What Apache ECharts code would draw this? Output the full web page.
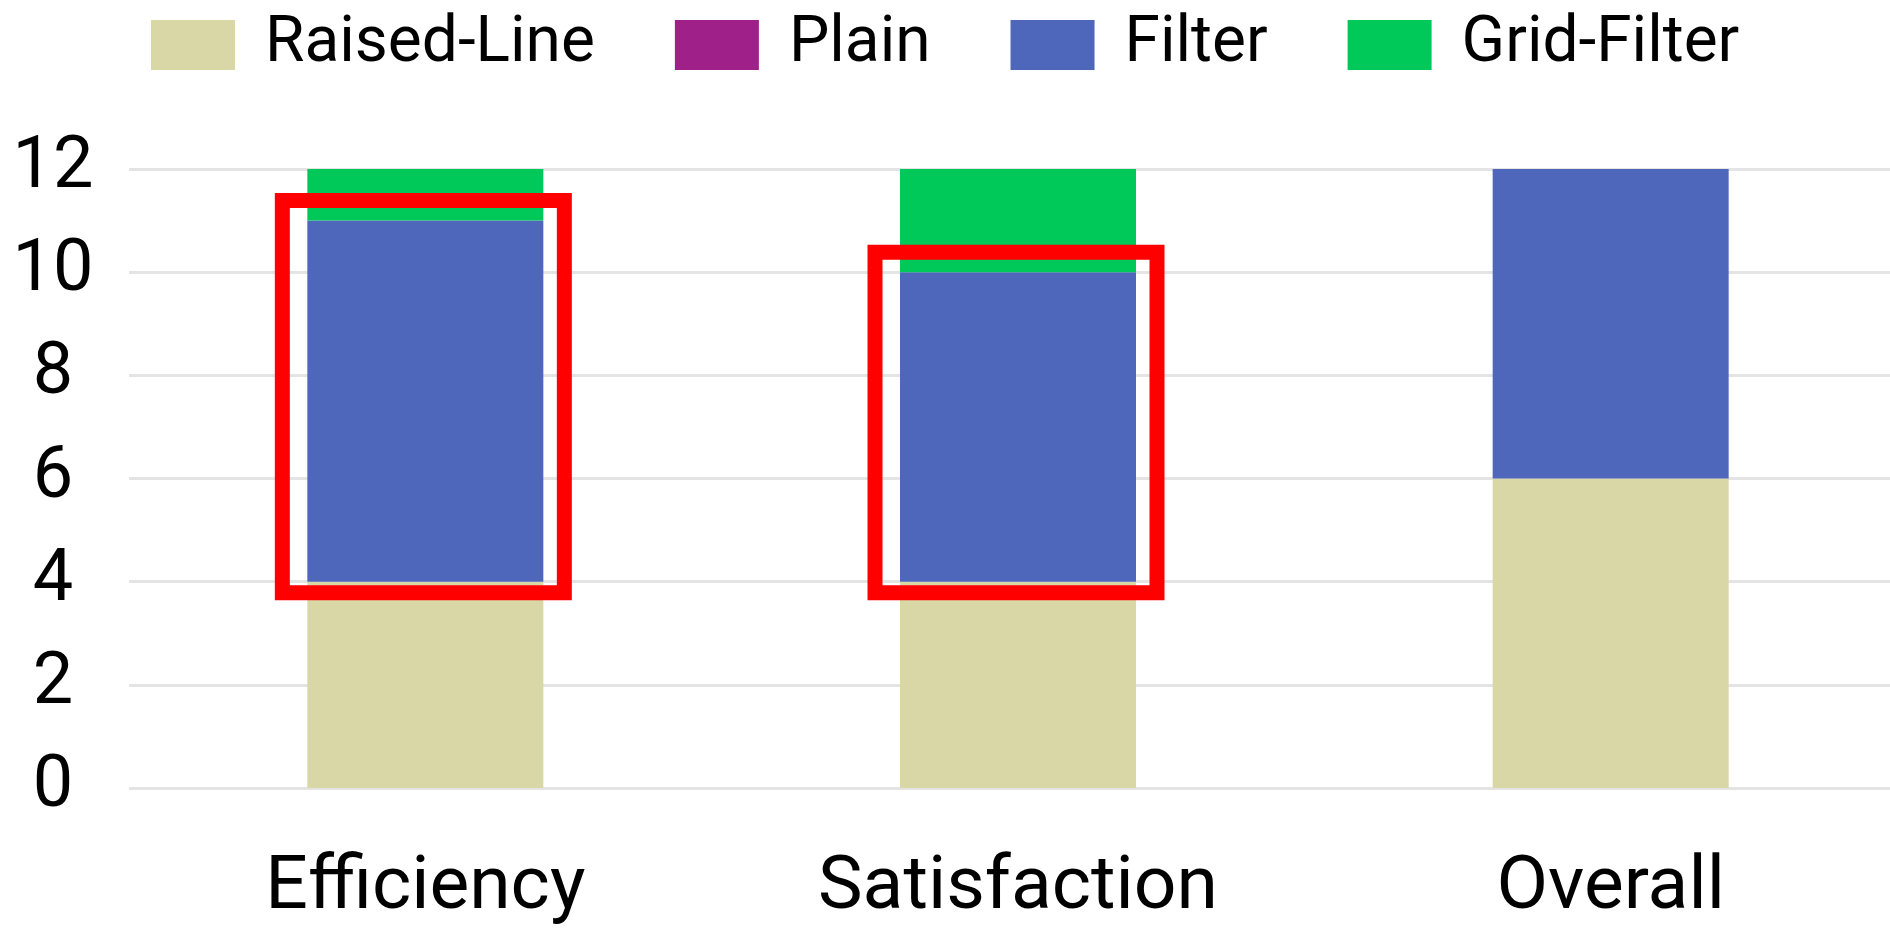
<!DOCTYPE html>
<html>
<head>
<meta charset="utf-8">
<title>Stacked ratings by condition</title>
<script src="https://cdn.jsdelivr.net/npm/echarts@6/dist/echarts.min.js"></script>
<style>
  html, body { margin: 0; padding: 0; background: #ffffff; overflow: hidden; }
  /* the plot band runs a little past the right edge of the window */
  #chart { width: 1907px; height: 933px; }
</style>
</head>
<body>
<div id="chart"></div>
<script>
// Categories along the x axis
const categories = ['Efficiency', 'Satisfaction', 'Overall'];

// Counts per technique (stacked)
const raisedLine  = [4, 4, 6];
const plain       = [0, 0, 0];
const filter      = [7, 6, 6];
const gridFilter  = [1, 2, 0];

// Series names, in legend order
const seriesNames = ['Raised-Line', 'Plain', 'Filter', 'Grid-Filter'];

// Y axis ticks
const yTicks = [0, 2, 4, 6, 8, 10, 12];

// Categories whose Filter segment is outlined in red
const highlighted = ['Efficiency', 'Satisfaction'];

const colors = {
  raised: '#DAD7A6',
  plain: '#A0208A',
  filter: '#4F67BB',
  grid: '#00C95A',
  box: '#FF0000'
};

const BAR_W = 236;
const FONT = 'Roboto, "Noto Sans", sans-serif';

// Outline boxes: span from the base of the Filter segment to its top
const boxData = highlighted.map(function (name) {
  const i = categories.indexOf(name);
  const low = raisedLine[i] + plain[i];
  return [i, low, low + filter[i]];
});

const chart = echarts.init(document.getElementById('chart'), null, { renderer: 'canvas' });

function barSeries(name, data, color) {
  return {
    name: name,
    type: 'bar',
    stack: 'total',
    data: data,
    barWidth: BAR_W,
    itemStyle: { color: color },
    emphasis: { disabled: true },
    animation: false
  };
}

chart.setOption({
  animation: false,
  backgroundColor: '#ffffff',
  textStyle: { fontFamily: FONT },
  legend: {
    data: seriesNames,
    left: 146,
    top: 8,
    itemWidth: 84,
    itemHeight: 50,
    itemGap: 80,
    icon: 'rect',
    selectedMode: false,
    textStyle: {
      fontFamily: FONT,
      fontSize: 64,
      color: '#000000',
      padding: [0, 0, 0, 25]
    }
  },
  grid: {
    left: 129,
    right: 0,
    top: 169,
    bottom: 145,
    containLabel: false
  },
  xAxis: {
    type: 'category',
    data: categories,
    axisLine: { show: false },
    axisTick: { show: false },
    axisLabel: {
      fontFamily: FONT,
      fontSize: 75,
      color: '#000000',
      margin: 64
    }
  },
  yAxis: {
    type: 'value',
    min: yTicks[0],
    max: yTicks[yTicks.length - 1],
    interval: 2,
    axisLine: { show: false },
    axisTick: { show: false },
    splitLine: { lineStyle: { color: '#E4E4E4', width: 3 } },
    axisLabel: {
      fontFamily: FONT,
      fontSize: 72,
      color: '#000000',
      align: 'center',
      margin: 76,
      padding: [0, 0, 20, 0]
    }
  },
  series: [
    barSeries(seriesNames[0], raisedLine, colors.raised),
    barSeries(seriesNames[1], plain, colors.plain),
    barSeries(seriesNames[2], filter, colors.filter),
    barSeries(seriesNames[3], gridFilter, colors.grid),
    {
      name: 'outline',
      type: 'custom',
      z: 10,
      silent: true,
      data: boxData,
      renderItem: function (params, api) {
        const bottom = api.coord([api.value(0), api.value(1)]);
        const top = api.coord([api.value(0), api.value(2)]);
        const padL = 25, padR = 21, padT = 20, padB = 11;
        const x = bottom[0] - BAR_W / 2 - padL;
        const y = top[1] - padT;
        const w = BAR_W + padL + padR;
        const h = bottom[1] - top[1] + padT + padB;
        return {
          type: 'rect',
          shape: { x: x, y: y, width: w, height: h },
          style: { fill: null, stroke: colors.box, lineWidth: 15 }
        };
      }
    }
  ]
});
</script>
</body>
</html>
